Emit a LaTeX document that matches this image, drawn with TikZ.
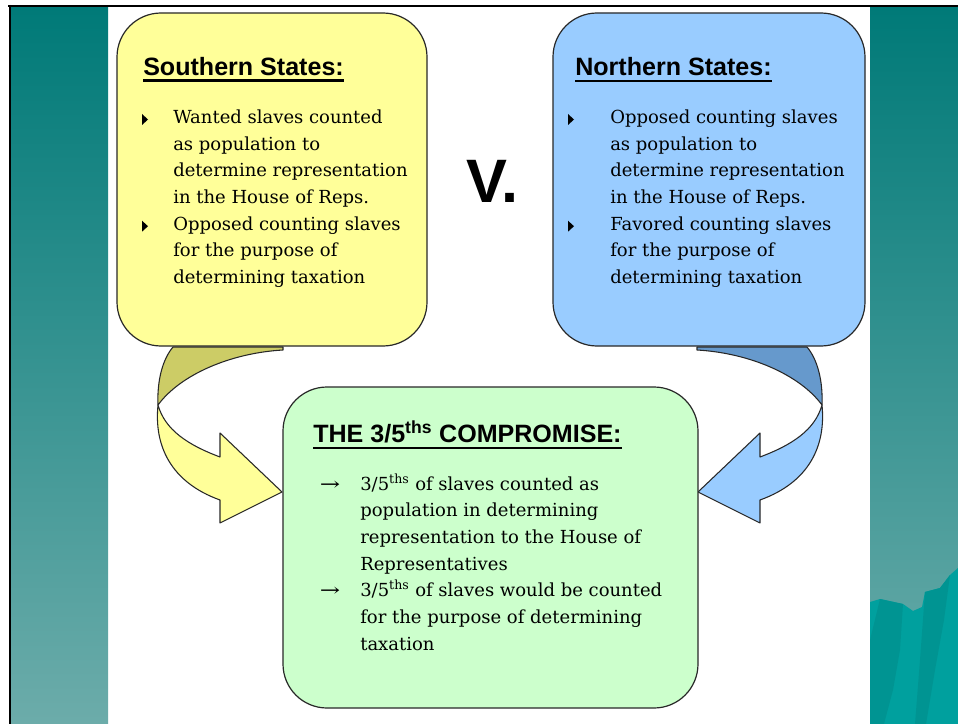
\documentclass[tikz,border=0pt]{standalone}
\usepackage{fontspec}
\usepackage{graphicx}
\setmainfont{DejaVu Serif}
\newfontfamily\hfont{Liberation Sans}
\usetikzlibrary{calc}
\definecolor{tealtop}{RGB}{0,122,120}
\definecolor{tealbot}{RGB}{108,172,170}
\definecolor{sea}{RGB}{0,160,158}
\definecolor{seadark}{RGB}{0,148,146}
\definecolor{ybox}{RGB}{255,255,153}
\definecolor{yback}{RGB}{204,204,102}
\definecolor{bbox}{RGB}{153,204,255}
\definecolor{bback}{RGB}{102,153,204}
\definecolor{gbox}{RGB}{204,255,204}
\definecolor{edge}{RGB}{40,40,40}
\newcommand{\carr}{\leavevmode\llap{\scalebox{1.35}[1]{→}\hspace{15pt}}}
\begin{document}
\begin{tikzpicture}[x=0.75pt,y=-0.75pt,
  box/.style={draw=edge,line width=0.9pt,rounded corners=33pt},
  arrowpart/.style={draw=edge,line width=0.8pt,line join=round},
  title/.style={anchor=base west,inner sep=0pt,font=\hfont\bfseries\fontsize{18.8}{22}\selectfont},
  body/.style={anchor=base west,inner sep=0pt,font=\fontsize{13.5}{20}\selectfont},
  uline/.style={line width=2pt},
  bul/.style={fill=black}]
\useasboundingbox (0,0) rectangle (958,724);
\fill[white] (0,0) rectangle (958,724);
% side panels
\shade[top color=tealtop,bottom color=tealbot] (10,7) rectangle (108,724);
\shade[top color=tealtop,bottom color=tealbot] (870,7) rectangle (958,724);
\fill[sea] (870,602) -- (880,599) -- (903,604) -- (913,611) -- (922,607) -- (925,592) -- (940,588) -- (950,575) -- (958,568) -- (958,724) -- (870,724) -- cycle;
\fill[seadark] (880,599) -- (903,604) -- (900,650) -- (893,690) -- (884,724) -- (870,724) -- (870,640) -- cycle;
\fill[seadark] (925,592) -- (940,588) -- (950,575) -- (944,620) -- (935,670) -- (926,724) -- (915,724) -- (920,660) -- cycle;
% border lines
\draw[line width=1.8pt] (8,6) -- (958,6);
\draw[line width=1.5pt] (9.5,5) -- (9.5,724);
% left curved arrow
\path[arrowpart,fill=yback] (173,347) .. controls (162,360) and (157,382) .. (158,405)
   .. controls (180,375) and (230,353) .. (283,350) -- (283,347) -- cycle;
\path[arrowpart,fill=ybox] (158,405) .. controls (154,445) and (170,482) .. (220,500)
   -- (220,523) -- (282,492) -- (220,433) -- (220,457)
   .. controls (188,445) and (165,430) .. (158,405) -- cycle;
% right curved arrow (mirror)
\begin{scope}[shift={(980,0)},xscale=-1]
\path[arrowpart,fill=bback] (173,347) .. controls (162,360) and (157,382) .. (158,405)
   .. controls (180,375) and (230,353) .. (283,350) -- (283,347) -- cycle;
\path[arrowpart,fill=bbox] (158,405) .. controls (154,445) and (170,482) .. (220,500)
   -- (220,523) -- (282,492) -- (220,433) -- (220,457)
   .. controls (188,445) and (165,430) .. (158,405) -- cycle;
\end{scope}
% boxes
\draw[box,fill=ybox] (117,13) rectangle (427,346);
\draw[box,fill=bbox] (553,13) rectangle (865,346);
\draw[box,fill=gbox] (283,387) rectangle (698,708);
% titles
\node[title] (st) at (143,75.5) {Southern States:};
\draw[uline] ($(st.base west)+(0,5)$) -- ($(st.base east)+(0,5)$);
\node[title] (nt) at (575,76) {Northern States:};
\draw[uline] ($(nt.base west)+(0,5)$) -- ($(nt.base east)+(0,5)$);
\node[title] (ct) at (313,442) {THE 3/5\textsuperscript{ths} COMPROMISE:};
\draw[uline] ($(ct.base west)+(0,6)$) -- ($(ct.base east)+(0,6)$);
\node[anchor=base west,inner sep=0pt,font=\hfont\bfseries\fontsize{46}{50}\selectfont] (vs) at (466,202) {V.};
% body texts
\node[body] (stext) at (173,123.5) {\parbox[t]{250pt}{Wanted slaves counted\\as population to\\determine representation\\in the House of Reps.\\Opposed counting slaves\\for the purpose of\\determining taxation}};
\node[body] (ntext) at (610,123.5) {\parbox[t]{250pt}{Opposed counting slaves\\as population to\\determine representation\\in the House of Reps.\\Favored counting slaves\\for the purpose of\\determining taxation}};
\node[body] (ctext) at (360,490) {\parbox[t]{300pt}{\carr 3/5\textsuperscript{ths} of slaves counted as\\population in determining\\representation to the House of\\Representatives\\\carr 3/5\textsuperscript{ths} of slaves would be counted\\for the purpose of determining\\taxation}};
% bullets
\foreach \bx/\by in {142/123.5,142/230.2,568/123.5,568/230.2}
  \fill[bul] (\bx,\by-9.5) -- (\bx+6,\by-4) -- (\bx,\by+1.5) -- cycle;
\end{tikzpicture}
\end{document}
